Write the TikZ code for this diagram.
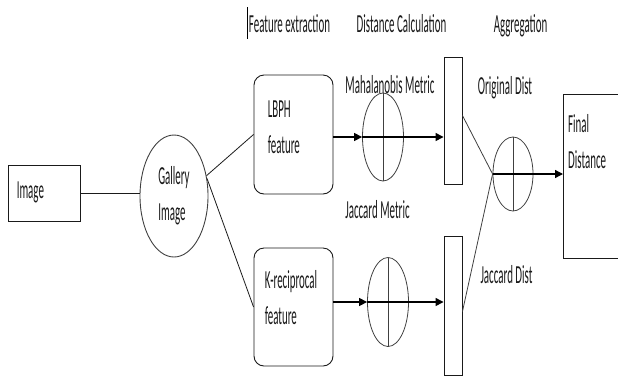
\documentclass[tikz,border=0pt]{standalone}
\usepackage{fontspec}
\newfontfamily\lblfont[FakeStretch=0.42]{Carlito}
\usepackage{tikz}
\usetikzlibrary{shapes.geometric, arrows.meta}
\definecolor{lineGray}{HTML}{404040}
\definecolor{inkDark}{HTML}{1A1A1A}

\begin{document}
\begin{tikzpicture}[x=1pt, y=-1pt,
  font=\lblfont\fontsize{26}{36}\selectfont, text=inkDark,
  box/.style={draw=inkDark, line width=0.9pt, inner sep=0pt},
  rbox/.style={box, rounded corners=10pt},
  lbl/.style={inner sep=0pt, align=left, anchor=north west},
  xcirc/.style={ellipse, draw=lineGray, line width=0.8pt, inner sep=0pt,
    path picture={\draw[lineGray, line width=0.8pt]
      (path picture bounding box.north) -- (path picture bounding box.south)
      (path picture bounding box.west) -- (path picture bounding box.east);}},
  link/.style={draw=inkDark, line width=0.8pt},
  arr/.style={-{Triangle[length=8pt, width=8pt]}, line width=1.3pt}]

\clip (0,0) rectangle (618,376);

% column titles
\node[anchor=base] (hFeat) at (289.5,32) {Feature extraction};
\node[anchor=base] (hDist) at (401.5,32) {Distance Calculation};
\node[anchor=base] (hAggr) at (520.5,32) {Aggregation};
\draw[line width=1pt] (247,7) -- (247,39);

% input
\node[box, minimum width=72pt, minimum height=56pt,
  label={[lbl, anchor=west, xshift=9pt, yshift=1pt]west:Image}] (img) at (44,193) {};
\node[box, ellipse, draw=lineGray, minimum width=68pt, minimum height=122pt,
  align=left] (gal) at (174,196) {Gallery\\Image};

% feature extraction
\node[rbox, minimum width=79pt, minimum height=119pt,
  label={[lbl, xshift=14pt, yshift=-26pt]north west:{LBPH\\feature}}] (lbph) at (293.5,134.5) {};
\node[rbox, minimum width=79pt, minimum height=118pt,
  label={[lbl, xshift=11pt, yshift=-23pt]north west:{K-reciprocal\\feature}}] (krec) at (293.5,307) {};

% distance calculation
\node[xcirc, minimum width=41pt, minimum height=88pt] (c1) at (383,137) {};
\node[xcirc, minimum width=41pt, minimum height=89pt] (c2) at (388,302) {};
\node[anchor=base] (mMaha) at (390,93) {Mahalanobis Metric};
\node[anchor=base] (mJacc) at (377.5,218) {Jaccard Metric};

\node[box, minimum width=18pt, minimum height=127pt] (r1) at (453,120.5) {};
\node[box, minimum width=18pt, minimum height=139pt] (r2) at (453,305.5) {};

% aggregation
\node[anchor=base] (dOrig) at (505,94) {Original Dist};
\node[anchor=base] (dJacc) at (506.5,283) {Jaccard Dist};
\node[xcirc, minimum width=40pt, minimum height=74pt] (c3) at (513,174) {};
\node[box, anchor=north west, minimum width=75pt, minimum height=164pt,
  label={[lbl, xshift=5pt, yshift=-20pt]north west:{Final\\Distance}}] (fin) at (563,94) {};

% connectors
\draw[link] (img.east) -- (img.east -| gal.west);
\draw[link] (gal.32) -- (lbph.west);
\draw[link] (gal.28) -- (krec.west);

\draw[arr] (c1.west -| lbph.east) -- (c1.west);
\draw[arr] (c1.west) -- (c1.west -| r1.west);
\draw[arr] (c2.west -| krec.east) -- (c2.west);
\draw[arr] (c2.west) -- (c2.west -| r2.west);

\draw[link, draw=lineGray] ([yshift=5pt]r1.east) -- (c3.west);
\draw[link, draw=lineGray] ([yshift=-6pt]r2.east) -- (c3.west);
\draw[arr] (c3.west) -- (c3.west -| fin.west);

\end{tikzpicture}
\end{document}
